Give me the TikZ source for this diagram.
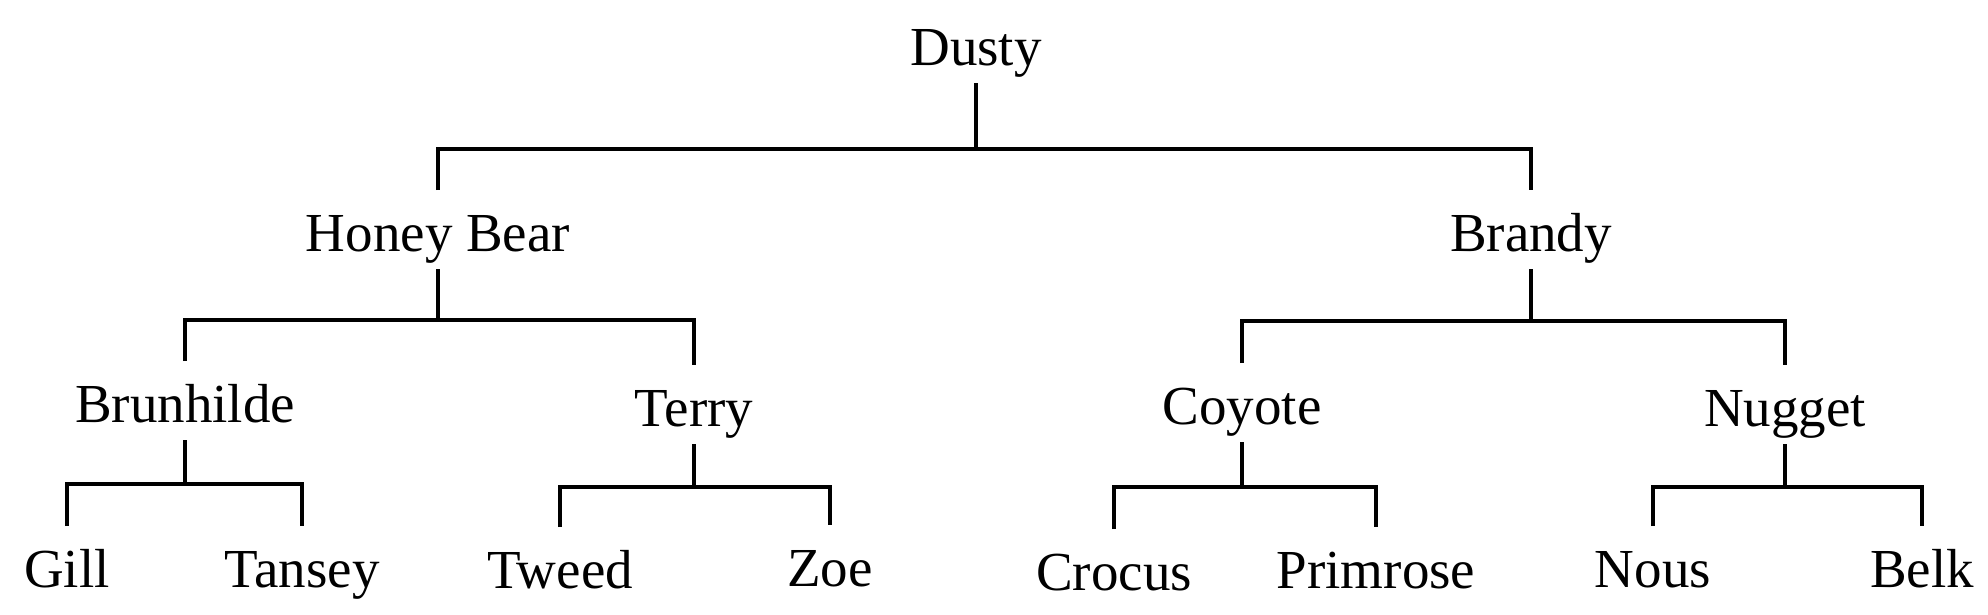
\documentclass[tikz,border=0pt]{standalone}
\usepackage{fontspec}
\setmainfont{Liberation Serif}
\begin{document}
\begin{tikzpicture}[x=1pt,y=-1pt,
  pname/.style={anchor=base,inner sep=0pt,outer sep=0pt,text height=61pt,text depth=18pt,
    font=\fontsize{55}{60}\selectfont},
  link/.style={line width=4.5pt,line cap=butt,line join=miter}]
\useasboundingbox (0,0) rectangle (1988,614);
% nodes
\node[pname] (dusty) at (976,65) {Dusty};
\node[pname] (hb) at (438,251) {Honey Bear};
\node[pname] (brandy) at (1531,251) {Brandy};
\node[pname] (brun) at (185,422) {Brunhilde};
\node[pname] (terry) at (694,426) {Terry};
\node[pname] (coyote) at (1242,424) {Coyote};
\node[pname] (nugget) at (1785,426) {Nugget};
\node[pname] (gill) at (67,587) {Gill};
\node[pname] (tansey) at (302,587) {Tansey};
\node[pname] (tweed) at (560,588) {Tweed};
\node[pname] (zoe) at (830,586) {Zoe};
\node[pname] (crocus) at (1114,590) {Crocus};
\node[pname] (primrose) at (1376,588) {Primrose};
\node[pname] (nous) at (1653,587) {Nous};
\node[pname] (belk) at (1922,587) {Belk};
% bar levels
\coordinate (b0) at (0,149);
\coordinate (b1) at (0,320);
\coordinate (b2) at (0,321);
\coordinate (b3) at (0,484);
\coordinate (b4) at (0,487);
% connectors
\draw[link] (dusty.south) -- (dusty.south |- b0);
\draw[link] (hb.north) -- (hb.north |- b0) -- (brandy.north |- b0) -- (brandy.north);
\draw[link] (hb.south) -- (hb.south |- b1);
\draw[link] (brun.north) -- (brun.north |- b1) -- (terry.north |- b1) -- (terry.north);
\draw[link] (brandy.south) -- (brandy.south |- b2);
\draw[link] (coyote.north) -- (coyote.north |- b2) -- (nugget.north |- b2) -- (nugget.north);
\draw[link] (brun.south) -- (brun.south |- b3);
\draw[link] (gill.north) -- (gill.north |- b3) -- (tansey.north |- b3) -- (tansey.north);
\draw[link] (terry.south) -- (terry.south |- b4);
\draw[link] (tweed.north) -- (tweed.north |- b4) -- (zoe.north |- b4) -- (zoe.north);
\draw[link] (coyote.south) -- (coyote.south |- b4);
\draw[link] (crocus.north) -- (crocus.north |- b4) -- (primrose.north |- b4) -- (primrose.north);
\draw[link] (nugget.south) -- (nugget.south |- b4);
\draw[link] (nous.north) -- (nous.north |- b4) -- (belk.north |- b4) -- (belk.north);
\end{tikzpicture}
\end{document}
